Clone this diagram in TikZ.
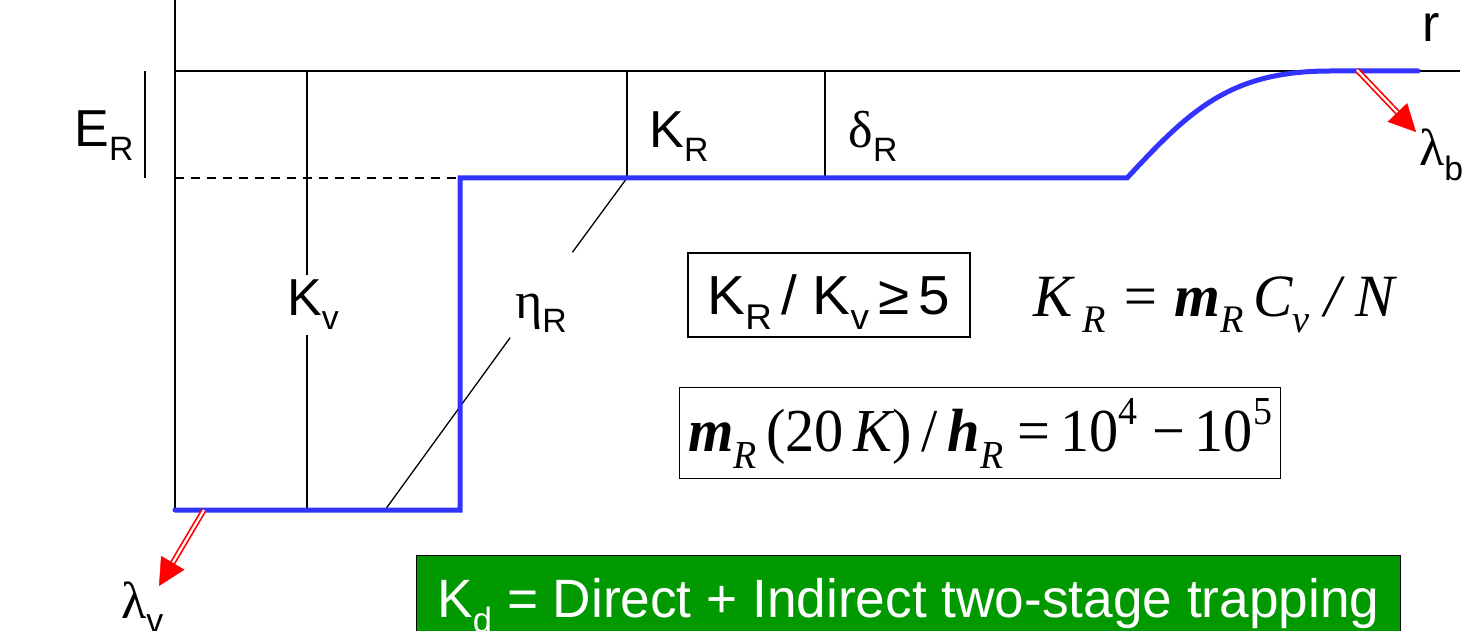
\documentclass[tikz,border=0pt]{standalone}
\usepackage{fontspec}
\setmainfont{Liberation Sans}
\newfontfamily\tnr{Liberation Serif}
\usetikzlibrary{arrows.meta,calc}
\definecolor{curveblue}{RGB}{51,51,255}
\definecolor{boxgreen}{RGB}{0,153,0}
\newcommand\sbs[1]{\raisebox{-0.27em}{\scalebox{0.65}{#1}}}
\newcommand\sps[1]{\raisebox{0.45em}{\scalebox{0.65}{#1}}}
\begin{document}
\begin{tikzpicture}[x=1pt,y=-1pt,
  thinln/.style={line width=1.3pt, draw=black},
  bluecurve/.style={line width=5pt, draw=curveblue, line cap=round, line join=miter},
  lbl/.style={font=\fontsize{52}{60}\selectfont, inner sep=0pt},
  dbl/.style={draw=red, double=white, line width=1.7pt, double distance=2.2pt},
  redhead/.style={draw=red, fill=red, line width=0.4pt, -{Triangle[length=27pt,width=27pt]}},
  frm/.style={draw=black, line width=1.3pt, inner sep=0pt},
]
\useasboundingbox (0,0) rectangle (1466,631);

% axes
\coordinate (o) at (175,0);
\coordinate (ao) at (175,510);
\coordinate (top0) at (175,71);
\coordinate (topend) at (1460,71);
\draw[thinln] (o) -- (ao);
\draw[thinln] (top0) -- (topend);
\node[lbl] (r) at (1431,28) {r};

% E_R bracket
\coordinate (eb1) at (145,71);
\coordinate (eb2) at (145,178);
\draw[thinln] (eb1) -- (eb2);
\node[lbl] (er) at (104,136) {E\sbs{R}};

% dashed level
\coordinate (d0) at (175,178);
\coordinate (kink) at (460,178);
\draw[thinln, dash pattern=on 9pt off 7pt] (d0) -- (kink);

% K_v line
\coordinate (kvtop) at (307,71);
\coordinate (kvbot) at (307,510);
\node[lbl, minimum height=60pt] (kv) at (313,305) {K\sbs{v}};
\draw[thinln] (kvtop) -- (kvtop |- kv.north);
\draw[thinln] (kvtop |- kv.south) -- (kvbot);

% K_R and delta_R lines
\coordinate (krtop) at (627,71);
\coordinate (krbot) at (627,178);
\draw[thinln] (krtop) -- (krbot);
\node[lbl] (kr) at (679,137) {K\sbs{R}};
\coordinate (dtop) at (825,71);
\coordinate (dbot) at (825,178);
\draw[thinln] (dtop) -- (dbot);
\node[lbl] (dr) at (873,136) {{\tnr δ}\sbs{R}};

% eta_R diagonal
\node[lbl, minimum width=70pt, minimum height=85pt, text height=60pt, text depth=14pt] (eta) at (541,295) {{\tnr η}\sbs{R}};
\coordinate (dlow) at (385,510);
\draw[thinln] (krbot) -- (eta);
\draw[thinln] (eta) -- (dlow);

% blue potential curve
\coordinate (b0) at (175,510);
\coordinate (b1) at (460,510);
\coordinate (c0) at (1127,178);
\coordinate (c3) at (1330,71);
\coordinate (bend) at (1418,71);
\draw[bluecurve] (b0) -- (b1) -- (kink) -- (c0) .. controls (1190,110) and (1230,71) .. (c3) -- (bend);

% lambda_v arrow
\coordinate (vs) at (204,510);
\coordinate (vt) at (159,586);
\draw[dbl] (vs) -- ($(vt)!22pt!(vs)$);
\draw[redhead] ($(vt)!27pt!(vs)$) -- (vt);
\node[lbl, anchor=base west] (lv) at (121,618) {{\tnr λ}\sbs{v}};

% lambda_b arrow
\coordinate (bs) at (1357,70);
\coordinate (bt) at (1416,132);
\draw[dbl] (bs) -- ($(bt)!22pt!(bs)$);
\draw[redhead] ($(bt)!27pt!(bs)$) -- (bt);
\node[lbl, anchor=base west] (lb) at (1419,166) {{\tnr λ}\sbs{b}};

% boxes and formulas
\node[frm, minimum width=282pt, minimum height=84pt, text depth=0pt, font=\fontsize{55}{60}\selectfont] (ratio) at (829,295) {\resizebox{243pt}{\height}{K\sbs{R}\,/ K\sbs{v}\,≥\,5}};
\node[inner sep=0pt, font=\tnr\fontsize{60}{64}\selectfont] (kreq) at (1214,305) {\resizebox{362pt}{\height}{\itshape K\,\sbs{R} = {\bfseries m}\sbs{R}\,C\sbs{v} / N}};
\node[frm, minimum width=601pt, minimum height=91pt, font=\tnr\fontsize{61}{64}\selectfont] (mreq) at (980,433) {\resizebox{584pt}{\height}{{\bfseries\itshape m}\sbs{\itshape R}\,(20\,{\itshape K})\,/\,{\bfseries\itshape h}\sbs{\itshape R} =\,10\sps{4} −\,10\sps{5}}};

% green box
\node[draw=black, fill=boxgreen, line width=1pt, minimum width=984pt, minimum height=100pt, anchor=north west, text=white, inner sep=0pt, font=\fontsize{54}{60}\selectfont] (kd) at (416,555) {\resizebox{942pt}{\height}{K\sbs{d} = Direct + Indirect two-stage trapping}};
\end{tikzpicture}
\end{document}
